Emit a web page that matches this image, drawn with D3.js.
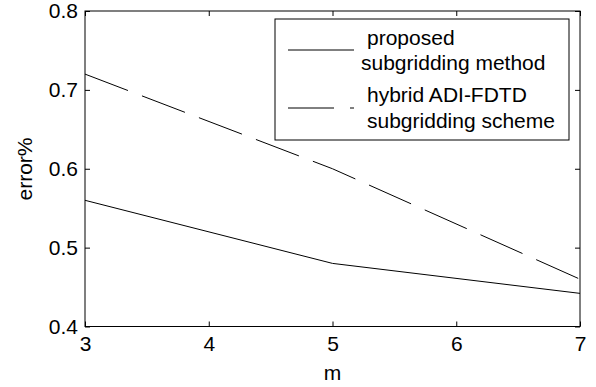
<!DOCTYPE html>
<html>
<head>
<meta charset="utf-8">
<script src="https://cdn.jsdelivr.net/npm/d3@7"></script>
<style>
  body { margin: 0; background: #fff; }
  svg text { font-family: "Liberation Sans", Arial, sans-serif; fill: #000; }
</style>
</head>
<body>
<div id="chart"></div>
<script>
// data
var mValues = [3, 5, 7];
var proposed = [0.56, 0.48, 0.442];
var hybrid = [0.72, 0.60, 0.46];
var xTicks = [3, 4, 5, 6, 7];
var yTicks = [0.4, 0.5, 0.6, 0.7, 0.8];
var legendLabels = [
    ["proposed", "subgridding method"],
    ["hybrid ADI-FDTD", "subgridding scheme"]
];

let width = 596;
let height = 387;
let margin = {top: 11, right: 16, bottom: 60.5, left: 85};
let fontSize = 21;

var svg = d3.select("#chart")
    .append("svg")
    .attr("width", width)
    .attr("height", height);

var x = d3.scaleLinear().domain([3, 7]).range([margin.left, width - margin.right]);
var y = d3.scaleLinear().domain([0.4, 0.8]).range([height - margin.bottom, margin.top]);

// data lines first, box and ticks on top
var line = d3.line()
    .x(function (d, i) { return x(mValues[i]); })
    .y(function (d) { return y(d); });

svg.append("path")
    .datum(proposed)
    .attr("d", line)
    .attr("fill", "none")
    .attr("stroke", "#000")
    .attr("stroke-width", 1);

svg.append("path")
    .datum(hybrid)
    .attr("d", line)
    .attr("fill", "none")
    .attr("stroke", "#000")
    .attr("stroke-width", 1)
    .attr("stroke-dasharray", "46,15");

// axes, ticks pointing inward on all four sides
var tickLen = 5;
svg.append("g")
    .attr("transform", "translate(0," + y(0.4) + ")")
    .call(d3.axisBottom(x).tickValues(xTicks).tickSizeInner(-tickLen).tickSizeOuter(0).tickPadding(10).tickFormat(d3.format("d")));
svg.append("g")
    .attr("transform", "translate(0," + y(0.8) + ")")
    .call(d3.axisTop(x).tickValues(xTicks).tickSizeInner(-tickLen).tickSizeOuter(0).tickFormat(""));
svg.append("g")
    .attr("transform", "translate(" + x(3) + ",0)")
    .call(d3.axisLeft(y).tickValues(yTicks).tickSizeInner(-tickLen).tickSizeOuter(0).tickPadding(7).tickFormat(d3.format(".1f")));
svg.append("g")
    .attr("transform", "translate(" + x(7) + ",0)")
    .call(d3.axisRight(y).tickValues(yTicks).tickSizeInner(-tickLen).tickSizeOuter(0).tickFormat(""));

svg.selectAll(".domain").remove();
svg.selectAll(".tick line").attr("stroke", "#000");
svg.selectAll(".tick text")
    .style("font-size", fontSize + "px")
    .attr("fill", "#000");

// legend box (white, covers ticks under it)
var lg = svg.append("g").attr("class", "legend");
lg.append("rect")
    .attr("x", 275).attr("y", 19)
    .attr("width", 294).attr("height", 121)
    .attr("fill", "#fff")
    .attr("stroke", "#000")
    .attr("stroke-width", 1);

lg.append("line")
    .attr("x1", 288).attr("x2", 354)
    .attr("y1", 50).attr("y2", 50)
    .attr("stroke", "#000");
lg.append("line")
    .attr("x1", 288).attr("x2", 354)
    .attr("y1", 108).attr("y2", 108)
    .attr("stroke", "#000")
    .attr("stroke-dasharray", "46,16");

var legendText = [
    {t: legendLabels[0][0], x: 367, y: 45},
    {t: legendLabels[0][1], x: 361, y: 70},
    {t: legendLabels[1][0], x: 367, y: 102},
    {t: legendLabels[1][1], x: 367, y: 128}
];
lg.selectAll("text.leg")
    .data(legendText)
    .enter().append("text")
    .attr("class", "leg")
    .attr("x", d => d.x)
    .attr("y", d => d.y)
    .style("font-size", fontSize + "px")
    .text(d => d.t);

// plot box
svg.append("rect")
    .attr("x", x(3)).attr("y", y(0.8))
    .attr("width", x(7) - x(3)).attr("height", y(0.4) - y(0.8))
    .attr("fill", "none")
    .attr("stroke", "#000")
    .attr("stroke-width", 1);

// axis titles
svg.append("text")
    .attr("x", x(5))
    .attr("y", 380)
    .attr("text-anchor", "middle")
    .style("font-size", fontSize + "px")
    .text("m");

svg.append("text")
    .attr("transform", "translate(32," + 169 + ") rotate(-90)")
    .attr("text-anchor", "middle")
    .style("font-size", fontSize + "px")
    .text("error%");
</script>
</body>
</html>
